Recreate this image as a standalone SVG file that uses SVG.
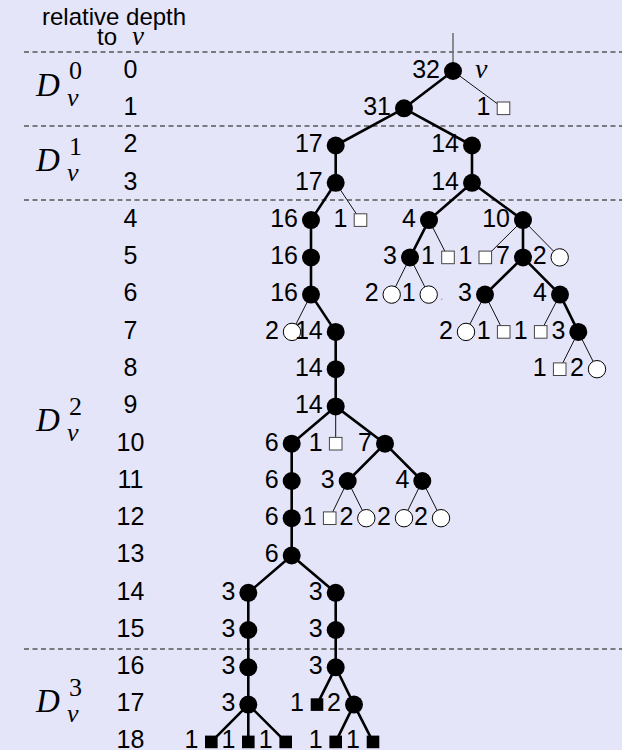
<svg xmlns="http://www.w3.org/2000/svg" width="622" height="750" viewBox="0 0 622 750">
  <style>
    .bg { fill: #e5e5fa; }
    .sep { stroke: #555; stroke-width: 1.3; stroke-dasharray: 5 3.5; fill: none; }
    .thick { stroke: #000; stroke-width: 2.6; stroke-linecap: round; }
    .thin { stroke: #111; stroke-width: 1; }
    .stem { stroke: #6b6b6b; stroke-width: 1.5; }
    .inner { fill: #000; }
    .leafc { fill: #fff; stroke: #000; stroke-width: 1; }
    .leafs { fill: #fff; stroke: #444; stroke-width: 1; }
    .leafb { fill: #000; }
    .lbl { font-family: "Liberation Sans", Arial, sans-serif; font-size: 25px; fill: #000; text-anchor: end; }
    .depth { font-family: "Liberation Sans", Arial, sans-serif; font-size: 25px; fill: #000; text-anchor: middle; }
    .head { font-family: "Liberation Sans", Arial, sans-serif; font-size: 24px; fill: #000; }
    .mi { font-family: "Liberation Serif", "Times New Roman", serif; font-style: italic; fill: #000; }
    .mr { font-family: "Liberation Serif", "Times New Roman", serif; fill: #000; }
  </style>

  <rect class="bg" x="0" y="0" width="622" height="750"/>

  <!-- column header -->
  <g id="header">
    <text class="head" x="42" y="25">relative depth</text>
    <text class="head" x="97" y="45">to</text>
    <text class="mi" x="132" y="45" font-size="27">v</text>
  </g>

  <!-- level separators -->
  <g id="separators">
    <line class="sep" x1="24" y1="52" x2="622" y2="52"/>
    <line class="sep" x1="24" y1="126" x2="622" y2="126"/>
    <line class="sep" x1="24" y1="200" x2="622" y2="200"/>
    <line class="sep" x1="24" y1="649" x2="622" y2="649"/>
  </g>

  <!-- D_v^k block names -->
  <g id="blocks">
    <g id="block-0">
      <text class="mi" x="36" y="96" font-size="33">D</text>
      <text class="mr" x="69" y="79" font-size="26">0</text>
      <text class="mi" x="67" y="106" font-size="26">v</text>
    </g>
    <g id="block-1">
      <text class="mi" x="36" y="171" font-size="33">D</text>
      <text class="mr" x="69" y="155" font-size="26">1</text>
      <text class="mi" x="67" y="181" font-size="26">v</text>
    </g>
    <g id="block-2">
      <text class="mi" x="36" y="431" font-size="33">D</text>
      <text class="mr" x="69" y="415" font-size="26">2</text>
      <text class="mi" x="67" y="441" font-size="26">v</text>
    </g>
    <g id="block-3">
      <text class="mi" x="36" y="712" font-size="33">D</text>
      <text class="mr" x="69" y="696" font-size="26">3</text>
      <text class="mi" x="67" y="722" font-size="26">v</text>
    </g>
  </g>

  <!-- relative depth column -->
  <g id="depths">
    <text class="depth" x="130.5" y="77.8">0</text>
    <text class="depth" x="130.5" y="115.1">1</text>
    <text class="depth" x="130.5" y="152.3">2</text>
    <text class="depth" x="130.5" y="189.6">3</text>
    <text class="depth" x="130.5" y="226.9">4</text>
    <text class="depth" x="130.5" y="264.2">5</text>
    <text class="depth" x="130.5" y="301.4">6</text>
    <text class="depth" x="130.5" y="338.7">7</text>
    <text class="depth" x="130.5" y="376">8</text>
    <text class="depth" x="130.5" y="413.2">9</text>
    <text class="depth" x="130.5" y="450.5">10</text>
    <text class="depth" x="130.5" y="487.8">11</text>
    <text class="depth" x="130.5" y="525">12</text>
    <text class="depth" x="130.5" y="562.3">13</text>
    <text class="depth" x="130.5" y="599.6">14</text>
    <text class="depth" x="130.5" y="636.8">15</text>
    <text class="depth" x="130.5" y="674.1">16</text>
    <text class="depth" x="130.5" y="711.4">17</text>
    <text class="depth" x="130.5" y="748">18</text>
  </g>

  <!-- tree edges -->
  <g id="connectors">
    <line class="stem" x1="453" y1="33" x2="453" y2="71"/>
    <!-- heavy path edges -->
    <line class="thick" x1="453" y1="71" x2="404" y2="108.3"/>
    <line class="thick" x1="404" y1="108.3" x2="335.7" y2="145.5"/>
    <line class="thick" x1="404" y1="108.3" x2="472" y2="145.5"/>
    <line class="thick" x1="335.7" y1="145.5" x2="335.7" y2="182.8"/>
    <line class="thick" x1="472" y1="145.5" x2="472" y2="182.8"/>
    <line class="thick" x1="335.7" y1="182.8" x2="311" y2="220.1"/>
    <line class="thick" x1="472" y1="182.8" x2="429" y2="220.1"/>
    <line class="thick" x1="472" y1="182.8" x2="523" y2="220.1"/>
    <line class="thick" x1="311" y1="220.1" x2="311" y2="257.4"/>
    <line class="thick" x1="311" y1="257.4" x2="311" y2="294.6"/>
    <line class="thick" x1="429" y1="220.1" x2="410" y2="257.4"/>
    <line class="thick" x1="523" y1="220.1" x2="523" y2="257.4"/>
    <line class="thick" x1="523" y1="257.4" x2="485" y2="294.6"/>
    <line class="thick" x1="523" y1="257.4" x2="560" y2="294.6"/>
    <line class="thick" x1="311" y1="294.6" x2="335.7" y2="331.9"/>
    <line class="thick" x1="560" y1="294.6" x2="578.3" y2="331.9"/>
    <line class="thick" x1="335.7" y1="331.9" x2="335.7" y2="369.2"/>
    <line class="thick" x1="335.7" y1="369.2" x2="335.7" y2="406.4"/>
    <line class="thick" x1="335.7" y1="406.4" x2="291.7" y2="443.7"/>
    <line class="thick" x1="335.7" y1="406.4" x2="385" y2="443.7"/>
    <line class="thick" x1="291.7" y1="443.7" x2="291.7" y2="481"/>
    <line class="thick" x1="291.7" y1="481" x2="291.7" y2="518.2"/>
    <line class="thick" x1="291.7" y1="518.2" x2="291.7" y2="555.5"/>
    <line class="thick" x1="385" y1="443.7" x2="347.7" y2="481"/>
    <line class="thick" x1="385" y1="443.7" x2="422.3" y2="481"/>
    <line class="thick" x1="291.7" y1="555.5" x2="248.3" y2="592.8"/>
    <line class="thick" x1="291.7" y1="555.5" x2="335.7" y2="592.8"/>
    <line class="thick" x1="248.3" y1="592.8" x2="248.3" y2="704.6"/>
    <line class="thick" x1="335.7" y1="592.8" x2="335.7" y2="667.3"/>
    <line class="thick" x1="335.7" y1="667.3" x2="317" y2="704.6"/>
    <line class="thick" x1="335.7" y1="667.3" x2="354" y2="704.6"/>
    <line class="thick" x1="248.3" y1="704.6" x2="211.3" y2="741.9"/>
    <line class="thick" x1="248.3" y1="704.6" x2="248.3" y2="741.9"/>
    <line class="thick" x1="248.3" y1="704.6" x2="285.7" y2="741.9"/>
    <line class="thick" x1="354" y1="704.6" x2="335.7" y2="741.9"/>
    <line class="thick" x1="354" y1="704.6" x2="373" y2="741.9"/>
    <!-- light edges to leaves -->
    <line class="thin" x1="453" y1="71" x2="503.5" y2="108.3"/>
    <line class="thin" x1="335.7" y1="182.8" x2="360.5" y2="220.1"/>
    <line class="thin" x1="429" y1="220.1" x2="448" y2="257.4"/>
    <line class="thin" x1="523" y1="220.1" x2="485.3" y2="257.4"/>
    <line class="thin" x1="523" y1="220.1" x2="559.7" y2="257.4"/>
    <line class="thin" x1="410" y1="257.4" x2="391.7" y2="294.6"/>
    <line class="thin" x1="410" y1="257.4" x2="428.7" y2="294.6"/>
    <line class="thin" x1="311" y1="294.6" x2="292" y2="331.9"/>
    <line class="thin" x1="485" y1="294.6" x2="466" y2="331.9"/>
    <line class="thin" x1="485" y1="294.6" x2="503.7" y2="331.9"/>
    <line class="thin" x1="560" y1="294.6" x2="540.7" y2="331.9"/>
    <line class="thin" x1="578.3" y1="331.9" x2="559.7" y2="369.2"/>
    <line class="thin" x1="578.3" y1="331.9" x2="597" y2="369.2"/>
    <line class="thin" x1="335.7" y1="406.4" x2="335.7" y2="443.7"/>
    <line class="thin" x1="347.7" y1="481" x2="329.7" y2="518.2"/>
    <line class="thin" x1="347.7" y1="481" x2="366.3" y2="518.2"/>
    <line class="thin" x1="422.3" y1="481" x2="404" y2="518.2"/>
    <line class="thin" x1="422.3" y1="481" x2="441" y2="518.2"/>
  </g>

  <!-- inner nodes -->
  <g id="n-A"><circle class="inner" cx="453" cy="71" r="9"/><text class="lbl" x="440" y="77.8">32</text>
    <text class="mi" x="475" y="77.5" font-size="28">v</text></g>
  <g id="n-B"><circle class="inner" cx="404" cy="108.3" r="9"/><text class="lbl" x="391" y="115.1">31</text></g>
  <g id="n-C"><circle class="inner" cx="335.7" cy="145.5" r="9"/><text class="lbl" x="322.7" y="152.3">17</text></g>
  <g id="n-D"><circle class="inner" cx="472" cy="145.5" r="9"/><text class="lbl" x="459" y="152.3">14</text></g>
  <g id="n-E"><circle class="inner" cx="335.7" cy="182.8" r="9"/><text class="lbl" x="322.7" y="189.6">17</text></g>
  <g id="n-F"><circle class="inner" cx="472" cy="182.8" r="9"/><text class="lbl" x="459" y="189.6">14</text></g>
  <g id="n-G"><circle class="inner" cx="311" cy="220.1" r="9"/><text class="lbl" x="298" y="226.9">16</text></g>
  <g id="n-H"><circle class="inner" cx="429" cy="220.1" r="9"/><text class="lbl" x="416" y="226.9">4</text></g>
  <g id="n-I"><circle class="inner" cx="523" cy="220.1" r="9"/><text class="lbl" x="510" y="226.9">10</text></g>
  <g id="n-J"><circle class="inner" cx="311" cy="257.4" r="9"/><text class="lbl" x="298" y="264.2">16</text></g>
  <g id="n-K"><circle class="inner" cx="410" cy="257.4" r="9"/><text class="lbl" x="397" y="264.2">3</text></g>
  <g id="n-L"><circle class="inner" cx="523" cy="257.4" r="9"/><text class="lbl" x="510" y="264.2">7</text></g>
  <g id="n-M"><circle class="inner" cx="311" cy="294.6" r="9"/><text class="lbl" x="298" y="301.4">16</text></g>
  <g id="n-N"><circle class="inner" cx="485" cy="294.6" r="9"/><text class="lbl" x="472" y="301.4">3</text></g>
  <g id="n-O"><circle class="inner" cx="560" cy="294.6" r="9"/><text class="lbl" x="547" y="301.4">4</text></g>
  <g id="n-P"><circle class="inner" cx="335.7" cy="331.9" r="9"/></g>
  <g id="n-Q"><circle class="inner" cx="578.3" cy="331.9" r="9"/><text class="lbl" x="565.3" y="338.7">3</text></g>
  <g id="n-R"><circle class="inner" cx="335.7" cy="369.2" r="9"/><text class="lbl" x="322.7" y="376">14</text></g>
  <g id="n-S"><circle class="inner" cx="335.7" cy="406.4" r="9"/><text class="lbl" x="322.7" y="413.2">14</text></g>
  <g id="n-T"><circle class="inner" cx="291.7" cy="443.7" r="9"/><text class="lbl" x="278.7" y="450.5">6</text></g>
  <g id="n-U"><circle class="inner" cx="385" cy="443.7" r="9"/><text class="lbl" x="372" y="450.5">7</text></g>
  <g id="n-V"><circle class="inner" cx="291.7" cy="481" r="9"/><text class="lbl" x="278.7" y="487.8">6</text></g>
  <g id="n-W"><circle class="inner" cx="347.7" cy="481" r="9"/><text class="lbl" x="334.7" y="487.8">3</text></g>
  <g id="n-X"><circle class="inner" cx="422.3" cy="481" r="9"/><text class="lbl" x="409.3" y="487.8">4</text></g>
  <g id="n-Y"><circle class="inner" cx="291.7" cy="518.2" r="9"/><text class="lbl" x="278.7" y="525">6</text></g>
  <g id="n-Z"><circle class="inner" cx="291.7" cy="555.5" r="9"/><text class="lbl" x="278.7" y="562.3">6</text></g>
  <g id="n-a"><circle class="inner" cx="248.3" cy="592.8" r="9"/><text class="lbl" x="235.3" y="599.6">3</text></g>
  <g id="n-b"><circle class="inner" cx="335.7" cy="592.8" r="9"/><text class="lbl" x="322.7" y="599.6">3</text></g>
  <g id="n-c"><circle class="inner" cx="248.3" cy="630" r="9"/><text class="lbl" x="235.3" y="636.8">3</text></g>
  <g id="n-d"><circle class="inner" cx="335.7" cy="630" r="9"/><text class="lbl" x="322.7" y="636.8">3</text></g>
  <g id="n-e"><circle class="inner" cx="248.3" cy="667.3" r="9"/><text class="lbl" x="235.3" y="674.1">3</text></g>
  <g id="n-f"><circle class="inner" cx="335.7" cy="667.3" r="9"/><text class="lbl" x="322.7" y="674.1">3</text></g>
  <g id="n-g"><circle class="inner" cx="248.3" cy="704.6" r="9"/><text class="lbl" x="235.3" y="711.4">3</text></g>
  <g id="n-h"><circle class="inner" cx="354" cy="704.6" r="9"/><text class="lbl" x="341" y="711.4">2</text></g>

  <!-- leaves -->
  <g id="l-1"><rect class="leafs" x="497.2" y="102" width="12.6" height="12.6"/><text class="lbl" x="490.5" y="115.1">1</text></g>
  <g id="l-2"><rect class="leafs" x="354.2" y="213.8" width="12.6" height="12.6"/><text class="lbl" x="347.5" y="226.9">1</text></g>
  <g id="l-3"><rect class="leafs" x="441.7" y="251.1" width="12.6" height="12.6"/><text class="lbl" x="435" y="264.2">1</text></g>
  <g id="l-4"><rect class="leafs" x="479" y="251.1" width="12.6" height="12.6"/><text class="lbl" x="472.3" y="264.2">1</text></g>
  <g id="l-5"><circle class="leafc" cx="559.7" cy="257.4" r="8.7"/><text class="lbl" x="546.7" y="264.2">2</text></g>
  <g id="l-6"><circle class="leafc" cx="391.7" cy="294.6" r="8.7"/><text class="lbl" x="378.7" y="301.4">2</text></g>
  <g id="l-7"><circle class="leafc" cx="428.7" cy="294.6" r="8.7"/><text class="lbl" x="415.7" y="301.4">1</text>
    <circle cx="441.7" cy="299.3" r="0.8" fill="#999"/></g>
  <g id="l-8"><circle class="leafc" cx="292" cy="331.9" r="8.7"/><text class="lbl" x="279" y="338.7">2</text></g>
  <g id="l-9"><circle class="leafc" cx="466" cy="331.9" r="8.7"/><text class="lbl" x="453" y="338.7">2</text></g>
  <g id="l-10"><rect class="leafs" x="497.4" y="325.6" width="12.6" height="12.6"/><text class="lbl" x="490.7" y="338.7">1</text></g>
  <g id="l-11"><rect class="leafs" x="534.4" y="325.6" width="12.6" height="12.6"/><text class="lbl" x="527.7" y="338.7">1</text></g>
  <g id="l-12"><rect class="leafs" x="553.4" y="362.9" width="12.6" height="12.6"/><text class="lbl" x="546.7" y="376">1</text></g>
  <g id="l-13"><circle class="leafc" cx="597" cy="369.2" r="8.7"/><text class="lbl" x="584" y="376">2</text></g>
  <g id="l-14"><rect class="leafs" x="329.4" y="437.4" width="12.6" height="12.6"/><text class="lbl" x="322.7" y="450.5">1</text></g>
  <g id="l-15"><rect class="leafs" x="323.4" y="511.9" width="12.6" height="12.6"/><text class="lbl" x="316.7" y="525">1</text></g>
  <g id="l-16"><circle class="leafc" cx="366.3" cy="518.2" r="8.7"/><text class="lbl" x="353.3" y="525">2</text></g>
  <g id="l-17"><circle class="leafc" cx="404" cy="518.2" r="8.7"/><text class="lbl" x="391" y="525">2</text></g>
  <g id="l-18"><circle class="leafc" cx="441" cy="518.2" r="8.7"/><text class="lbl" x="428" y="525">2</text></g>
  <g id="l-19"><rect class="leafb" x="310.7" y="698.3" width="12.6" height="12.6"/><text class="lbl" x="304" y="711.4">1</text></g>
  <g id="l-20"><rect class="leafb" x="205" y="735.6" width="12.6" height="12.6"/><text class="lbl" x="198.3" y="748">1</text></g>
  <g id="l-21"><rect class="leafb" x="242" y="735.6" width="12.6" height="12.6"/><text class="lbl" x="235.3" y="748">1</text></g>
  <g id="l-22"><rect class="leafb" x="279.4" y="735.6" width="12.6" height="12.6"/><text class="lbl" x="272.7" y="748">1</text></g>
  <g id="l-23"><rect class="leafb" x="329.4" y="735.6" width="12.6" height="12.6"/><text class="lbl" x="322.7" y="748">1</text></g>
  <g id="l-24"><rect class="leafb" x="366.7" y="735.6" width="12.6" height="12.6"/><text class="lbl" x="360" y="748">1</text></g>

  <!-- label of the node at depth 7 sits over the neighbouring leaf -->
  <g id="n-P-label"><text class="lbl" x="322.7" y="338.7">14</text></g>
</svg>
